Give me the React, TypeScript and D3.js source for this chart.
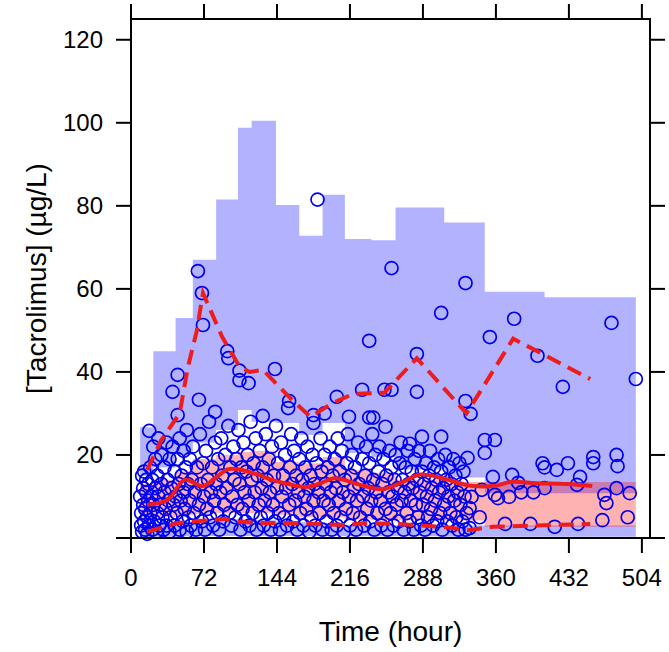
import React from "react";
import * as d3 from "d3";

// ---- Data ----
const xTicks = [0, 72, 144, 216, 288, 360, 432, 504];
const yTicks = [0, 20, 40, 60, 80, 100, 120];
const yTickLabels = ["", "20", "40", "60", "80", "100", "120"];

// simulation bins (hours)
const binStart = [9, 22, 44, 61, 84, 105.5, 119, 143, 166, 189, 211, 237, 261, 309, 349, 408];
const binEnd = [22, 44, 61, 84, 105.5, 119, 143, 166, 189, 211, 237, 261, 309, 349, 408, 498];
// CI of simulated 95th percentile
const upHi = [26.7, 45, 53, 67, 81.5, 98.8, 100.5, 80.2, 72.8, 82.7, 72, 71.7, 79.6, 76, 59.3, 58];
const upLo = [15, 17, 20, 23, 26, 30.8, 28, 27.7, 24.8, 27.7, 20.5, 19.5, 16.5, 14.6, 10.8, 10.8];
// CI of simulated median
const medHi = [13, 14, 16, 19, 20, 20.7, 21, 18.3, 18, 19.5, 16.4, 15.7, 14, 13.5, 13.5, 13.5];
const medLo = [4.5, 5, 5.5, 5.8, 6, 6, 6, 5.5, 5, 5, 4.5, 4.3, 4.3, 4.2, 2.7, 2.7];
// CI of simulated 5th percentile
const lowHi = [3, 3.5, 4, 4.2, 4.5, 4.5, 4.3, 4, 3.8, 3.6, 3.2, 3.1, 3.1, 3.0, 3.0, 3.0];
const lowLo = [0.3, 0.3, 0.4, 0.5, 0.5, 0.5, 0.5, 0.5, 0.5, 0.5, 0.4, 0.4, 0.4, 0.3, 0.3, 0.3];

// observed percentiles
const obsMedT = [16, 36, 53, 71, 85, 96, 109, 125, 139, 155, 172, 185, 201, 226, 248, 268, 285, 310, 335, 360, 374, 400, 430, 455];
const obsMedC = [8, 9.2, 14, 12.5, 14.8, 16.6, 16.4, 15.3, 14, 13, 12.3, 13, 14.4, 12.8, 11.8, 13.5, 15.3, 14.2, 12.6, 12.6, 13.5, 13.2, 13, 12.5];
const obsHiT = [16, 30, 48, 56, 65, 71, 90, 107, 117, 130, 144, 160, 177, 199, 219, 250, 282, 331, 377, 453];
const obsHiC = [16.4, 23.6, 30, 41, 50, 59, 48.4, 41.3, 40, 40.5, 37, 33, 29.2, 32.5, 34.7, 35, 43.3, 30, 48, 38.3];
const obsLoT = [16, 46, 76, 93, 106, 132, 159, 190, 214, 231, 260, 307, 333, 357, 400, 453];
const obsLoC = [1.5, 3.6, 4.3, 4.6, 3.9, 3.6, 3.6, 3.3, 3.1, 3.6, 3.4, 2.7, 1.9, 2.7, 3.0, 3.4];

// observed concentrations
const obsTime = [
  9, 10, 10, 11, 11, 12, 12, 13, 13, 14, 14, 15, 15, 16, 16, 17, 17, 18, 18, 19, 19, 20, 21, 21, 22, 22, 23, 24, 24, 25,
  26, 26, 27, 27, 28, 29, 30, 30, 31, 32, 33, 33, 34, 35, 35, 36, 37, 38, 38, 39, 40, 41, 41, 42, 43, 43, 44, 45, 46, 46,
  46, 47, 48, 48, 49, 50, 51, 52, 52, 53, 54, 55, 55, 56, 57, 58, 58, 59, 60, 61,
  62, 63, 64, 65, 66, 67, 67, 68, 69, 70, 70, 71, 71, 72, 73, 74, 75, 76, 77, 78, 79, 80, 81, 82, 83, 83, 84, 85, 86, 87,
  88, 89, 90, 91, 92, 93, 94, 95, 96, 96, 97, 98, 99, 100, 101, 102, 103, 104, 105, 106, 107, 107, 107, 108, 109, 110, 111, 112, 113, 114,
  115, 116, 116, 117, 118, 119, 120, 121, 122, 123, 124, 125, 126, 127, 128, 129, 130, 130, 131, 132, 133, 134, 135, 136, 137, 138, 139, 140, 141, 142,
  142, 143, 144, 145, 146, 147, 148, 149, 150, 151, 152, 153, 154, 155, 156, 156, 157, 158, 159, 160, 161, 162, 163, 164, 165, 166, 167, 168, 169, 170,
  171, 172, 173, 174, 175, 176, 177, 178, 179, 180, 180, 180, 181, 182, 183, 184, 185, 186, 187, 188, 189, 190, 191, 191, 192, 193, 194, 195, 196, 197,
  198, 199, 200, 201, 202, 203, 203, 204, 205, 206, 207, 208, 209, 210, 211, 212, 213, 214, 215, 215, 216, 217, 218, 219, 220, 221, 222, 223, 224, 225,
  226, 228, 228, 229, 230, 231, 232, 233, 234, 235, 235, 236, 237, 238, 239, 239, 240, 241, 242, 243, 244, 245, 246, 247, 248, 249, 250, 251, 251, 252,
  253, 254, 255, 256, 257, 257, 258, 259, 260, 261, 262, 263, 264, 265, 266, 267, 268, 269, 270, 271, 272, 273, 274, 275, 275, 276, 277, 278, 279, 280,
  281, 282, 282, 283, 284, 285, 286, 287, 287, 288, 289, 290, 291, 292, 293, 294, 295, 296, 297, 298, 299, 300, 301, 302, 303, 304, 305, 306, 306, 307,
  308, 309, 310, 311, 312, 313, 314, 315, 316, 317, 318, 319, 320, 321, 322, 323, 324, 325, 326, 327, 328, 329, 330, 330, 331, 332, 334, 334, 335, 336,
  344, 346, 349, 349, 357, 359, 359, 362, 369, 373, 376, 382, 385, 394, 397, 406, 408, 408, 418, 420, 426, 431, 440, 441, 443, 456, 456, 465, 467, 469,
  474, 479, 479, 480, 490, 492, 498, 354, 378, 401, 257, 235, 282, 306, 330
];
const obsConc = [
  10, 6, 3, 15, 1.5, 8, 12, 4, 16, 2, 7, 11, 14, 5, 1, 9, 13, 25.8, 3, 6, 17, 10, 2, 14, 22, 8, 4, 12, 19, 1.5,
  6, 15, 24, 10, 3, 8, 20, 13, 5, 2, 11, 17, 7, 23, 3, 14, 9, 19, 1.5, 5, 12, 35.2, 22, 8, 16, 3, 10, 6, 29.6, 39.3,
  19, 13, 2, 24, 9, 15, 4, 21, 11, 7, 17, 1.5, 26, 13, 5, 19, 9, 3, 14, 22,
  6, 11, 2, 17, 64.3, 33.3, 8, 25, 13, 59, 4, 51.3, 18, 10, 2, 21, 7, 14, 28, 5, 11, 17, 3, 9, 30.4, 23, 13, 6, 19, 2,
  11, 24, 15, 4, 8, 20, 12, 45, 43.3, 27, 6, 17, 3, 10, 22, 14, 5, 19, 8, 26, 40.3, 38, 13, 2, 17, 7, 23, 11, 4, 16,
  20, 37.3, 9, 3, 28, 14, 6, 18, 11, 24, 2, 15, 8, 21, 5, 12, 29.4, 17, 3, 9, 25, 14, 6, 19, 11, 2, 22, 8, 15, 40.7,
  4, 27, 12, 18, 6, 2, 23, 10, 15, 5, 20, 12, 3, 31.3, 33, 8, 17, 25, 13, 4, 21, 9, 15, 2, 11, 19, 6, 24, 14, 3,
  10, 17, 7, 22, 12, 1.5, 15, 5, 20, 29.6, 27.7, 9, 13, 3, 18, 81.5, 11, 6, 24, 16, 2, 9, 30, 20, 13, 4, 17, 8, 22, 11,
  2, 15, 6, 19, 12, 34, 3, 24, 9, 16, 5, 21, 11, 1.5, 14, 7, 18, 25, 29.2, 10, 3, 15, 20, 6, 12, 17, 2, 9, 23, 13,
  5, 35.7, 19, 10, 3, 15, 22, 7, 12, 47.5, 18, 4, 9, 25, 29, 14, 2, 20, 11, 6, 16, 22, 9, 3, 13, 19, 35.7, 26.8, 7, 15,
  2, 11, 21, 6, 65, 17, 10, 3, 14, 20, 8, 12, 4, 18, 23, 9, 14, 2, 11, 17, 6, 21, 13, 22.7, 4, 9, 16, 12, 2, 19,
  8, 44.3, 14, 5, 21, 11, 3, 24.4, 16, 8, 13, 2, 18, 10, 5, 15, 21, 7, 12, 3, 17, 9, 14, 4, 19, 11, 6, 54.2, 16, 2,
  12, 8, 20, 14, 4, 10, 17, 6, 13, 3, 19, 9, 15, 5, 11, 2, 18, 8, 13, 4, 16, 10, 61.4, 2, 6, 19.3, 2.4, 7.2, 29.9, 9.9,
  5, 11.6, 23.6, 20.5, 14.7, 23.6, 10.4, 9.6, 3.4, 9.9, 15.2, 13.3, 11, 3.4, 11, 18, 17, 12, 2.7, 16.4, 36.4, 18, 12.8, 3.4, 14.7, 19.5, 18, 4.3, 10.4, 8.4,
  51.8, 12, 20, 17.3, 5, 10.8, 38.3, 48.4, 52.8, 43.9, 35.7, 29, 35.2, 24.4, 33
];

const W = 669;
const H = 652;

export default function App() {
  const x = d3.scaleLinear().domain([0, 512]).range([131, 650]);
  const y = d3.scaleLinear().domain([0, 125]).range([538, 19]);
  const x0 = x.range()[0], x1 = x.range()[1];
  const yb = y.range()[0], yt = y.range()[1];

  const bandArea = (lo: number[], hi: number[]) => {
    const pts: { t: number; lo: number; hi: number }[] = [];
    binStart.forEach((s, i) => {
      pts.push({ t: s, lo: lo[i], hi: hi[i] });
      pts.push({ t: binEnd[i], lo: lo[i], hi: hi[i] });
    });
    return d3
      .area<{ t: number; lo: number; hi: number }>()
      .x((d) => x(d.t))
      .y0((d) => y(d.lo))
      .y1((d) => y(d.hi))(pts) as string;
  };

  const medLine = d3
    .line<[number, number]>()
    .x((d) => x(d[0]))
    .y((d) => y(d[1]))
    .curve(d3.curveCatmullRom)(obsMedT.map((t, i) => [t, obsMedC[i]] as [number, number])) as string;
  const lin = d3.line<[number, number]>().x((d) => x(d[0])).y((d) => y(d[1]));
  const hiLine = lin(obsHiT.map((t, i) => [t, obsHiC[i]] as [number, number])) as string;
  const loLine = lin(obsLoT.map((t, i) => [t, obsLoC[i]] as [number, number])) as string;

  const red = "#ee1c1c";
  const font = "Liberation Sans, Arial, sans-serif";

  return (
    <svg width={W} height={H} style={{ position: "absolute", left: 0, top: 0, background: "#fff" }} fontFamily={font}>
      <rect x={0} y={0} width={W} height={H} fill="#fff" />
      <g>
        <path d={bandArea(upLo, upHi)} fill="#0000ff" fillOpacity={0.3} />
        <path d={bandArea(lowLo, lowHi)} fill="#0000ff" fillOpacity={0.3} />
        <path d={bandArea(medLo, medHi)} fill="#ff0000" fillOpacity={0.3} />
      </g>
      <g>
        {obsTime.map((t, i) => (
          <circle key={i} cx={x(t)} cy={y(obsConc[i])} r={6.5} fill="none" stroke="#0000ee" strokeWidth={1.7} />
        ))}
      </g>
      <path d={medLine} fill="none" stroke={red} strokeWidth={4} />
      <path d={hiLine} fill="none" stroke={red} strokeWidth={4} strokeDasharray="15,8" />
      <path d={loLine} fill="none" stroke={red} strokeWidth={4} strokeDasharray="15,8" />

      <rect x={x0} y={yt} width={x1 - x0} height={yb - yt} fill="none" stroke="#000" strokeWidth={2} />
      {xTicks.map((t) => (
        <g key={"xt" + t}>
          <line x1={x(t)} x2={x(t)} y1={yb} y2={yb + 15} stroke="#000" strokeWidth={2} />
          <line x1={x(t)} x2={x(t)} y1={yt} y2={yt - 15} stroke="#000" strokeWidth={2} />
          <text x={x(t)} y={yb + 48} textAnchor="middle" fontSize={24} fill="#000">
            {t}
          </text>
        </g>
      ))}
      {yTicks.map((v, i) => (
        <g key={"yt" + v}>
          <line x1={x0} x2={x0 - 15} y1={y(v)} y2={y(v)} stroke="#000" strokeWidth={2} />
          <line x1={x1} x2={x1 + 15} y1={y(v)} y2={y(v)} stroke="#000" strokeWidth={2} />
          <text x={x0 - 28} y={y(v) + 8.5} textAnchor="end" fontSize={24} fill="#000">
            {yTickLabels[i]}
          </text>
        </g>
      ))}
      <text x={(x0 + x1) / 2} y={641} textAnchor="middle" fontSize={28} fill="#000">
        Time (hour)
      </text>
      <text
        transform={`translate(46, ${(yt + yb) / 2}) rotate(-90)`}
        textAnchor="middle"
        fontSize={28}
        fill="#000"
      >
        [Tacrolimus] (µg/L)
      </text>
    </svg>
  );
}
